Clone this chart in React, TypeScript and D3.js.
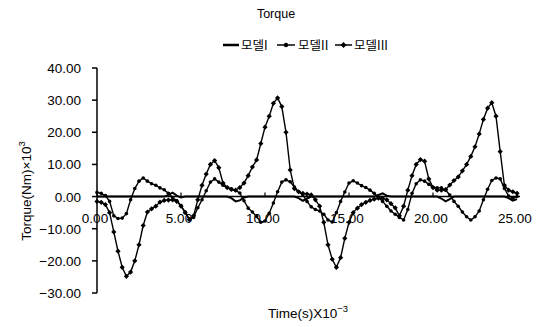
import React from "react";
import * as d3 from "d3";

const W = 549;
const H = 327;

const chartTitle = "Torque";
const seriesNames = ["모델I", "모델II", "모델III"];
const yTicks = [40, 30, 20, 10, 0, -10, -20, -30];
const xTicks = [0, 5, 10, 15, 20, 25];

// time samples (x 10^-3 s), 0.25 step
const time = d3.range(101).map((i) => i * 0.25);

const model1 = [
  0, 0, 0, 0, 0, 0, 0, 0, 0, 0, 0, 0, 0, 0, 0, 0, 0, 0.5, 1.2, 0.3,
  -0.3, 0, 0, 0, 0, 0, 0, 0, 0, 0, 0, 0, -0.5, -1.5, -1.2, -0.3, 0, 0, 0, 0,
  0, 0, 0, 0, 0, 0, 0, 0, -0.5, -1.3, -0.6, 0, 0, 0, 0, 0, 0, 0, 0, 0,
  0, 0, 0, 0, 0, 0, 0, 0.5, 1, 0.3, 0, 0, 0, 0, 0, 0, 0, 0, 0, 0,
  0, 0, -0.6, -1.5, -0.8, 0, 0, 0, 0, 0, 0, 0, 0, 0, 0, 0, 0, 0, -0.5, -1.3,
  -0.8,
];

const model2 = [
  1.3, 1, 0.3, -1.5, -6, -6.8, -6.7, -5.3, -1, 2.5, 4.8, 5.8, 4.8, 4, 3.5, 2.7, 2.1, 1, -0.3, -1.3,
  -2.8, -4.8, -7, -6.5, -3.5, -1, 1.8, 4.5, 5.5, 4.5, 3.5, 2.8, 2.4, 1.9, 1.1, -1.3, -3.6, -4.8, -6.2, -8,
  -7.6, -5.2, -2, 1.5, 4.5, 5.2, 4.6, 3, 1.5, 0.5, -1.5, -3.2, -4, -4.5, -5.5, -7.3, -7.9, -5, -1.5, 1.4,
  4.2, 4.9, 4.2, 3.4, 2.8, 2, 1, -0.2, -1.5, -3, -4.5, -5.5, -6.5, -7.3, -4, 1, 4, 5.2, 4.8, 3.8,
  2.9, 2.7, 2.7, 2, 0.5, -1.5, -3, -4.8, -6.3, -7.3, -6.3, -4.5, -1, 2.3, 5, 5.8, 5.5, 2.5, 0.2, -0.5,
  0,
];

const model3 = [
  -1.5, -1.8, -2.5, -5, -11, -17, -22, -24.8, -23.5, -20, -15, -9, -4.8, -3.8, -3, -1.7, -1.2, -1.1, -1, -1.5,
  -3, -5, -7.2, -6, -1, 3.5, 7, 10, 11.2, 9, 4.2, 2.8, 2.2, 2, 2.8, 4.2, 6.5, 9.2, 11.4, 16.5,
  21.6, 25, 29, 30.7, 28, 20, 8.3, 2.5, 1.5, 1, 0.8, 0.5, -1, -3, -8, -15, -19.5, -22, -19, -13,
  -8, -5, -3.6, -2.5, -1.8, -1.2, -0.8, -0.5, -0.5, -1, -2.2, -3.5, -6, -3, 2, 6.5, 10, 11.5, 11, 5.5,
  2.8, 2, 2, 2.2, 3.6, 5, 6.1, 8, 10, 12.5, 15.5, 19.5, 24, 27.5, 29.2, 25, 14, 3.5, 2, 1.5,
  1,
];

const FONT = "'Liberation Sans', Arial, sans-serif";
const KFONT = "'Noto Sans CJK KR', 'Liberation Sans', sans-serif";

export default function App() {
  const x = d3.scaleLinear().domain([0, 25]).range([97, 517]);
  const y = d3.scaleLinear().domain([-30, 40]).range([293, 68]);
  const line = d3
    .line<number>()
    .x((_, i) => x(time[i]))
    .y((v) => y(v));

  const diamond = (cx: number, cy: number, r: number) =>
    `M${cx},${cy - r}L${cx + r},${cy}L${cx},${cy + r}L${cx - r},${cy}Z`;

  return (
    <svg width={W} height={H} style={{ display: "block", position: "absolute", left: 0, top: 0, background: "#fff" }}>
      <rect x={0} y={0} width={W} height={H} fill="#fff" />
      <text x={276} y={18} textAnchor="middle" fontFamily={FONT} fontSize={12.5} fill="#000">
        {chartTitle}
      </text>

      {/* legend */}
      <g fontFamily={KFONT} fontSize={12.5} fill="#000">
        <line x1={223} x2={239} y1={45} y2={45} stroke="#000" strokeWidth={2.5} />
        <text x={241} y={50}>{seriesNames[0]}</text>
        <line x1={277} x2={295} y1={45} y2={45} stroke="#000" strokeWidth={1.5} />
        <circle cx={286} cy={45} r={2.2} fill="#000" />
        <text x={298} y={50}>{seriesNames[1]}</text>
        <line x1={335} x2={352} y1={45} y2={45} stroke="#000" strokeWidth={1.5} />
        <path d={diamond(343.5, 45, 3)} fill="#000" />
        <text x={354} y={50}>{seriesNames[2]}</text>
      </g>

      {/* y axis */}
      <line x1={x(0)} x2={x(0)} y1={y(40)} y2={y(-30)} stroke="#000" strokeWidth={1.5} />
      {yTicks.map((t) => (
        <g key={t}>
          <line x1={x(0) - 5} x2={x(0)} y1={y(t)} y2={y(t)} stroke="#000" strokeWidth={1.5} />
          <text x={81} y={y(t) + 5} textAnchor="end" fontFamily={FONT} fontSize={13.5} fill="#000">
            {t.toFixed(2).replace("-", "\u2212")}
          </text>
        </g>
      ))}

      {/* x axis */}
      <line x1={x(0)} x2={x(25) + 3} y1={y(0)} y2={y(0)} stroke="#000" strokeWidth={1.5} />
      {xTicks.map((t) => (
        <g key={t}>
          <line x1={x(t)} x2={x(t)} y1={y(0) - 4} y2={y(0)} stroke="#000" strokeWidth={1.2} />
          <text x={x(t) - 2} y={y(0) + 26} textAnchor="middle" fontFamily={FONT} fontSize={13.5} fill="#000">
            {t.toFixed(2)}
          </text>
        </g>
      ))}

      {/* series */}
      <path d={line(model1) || ""} fill="none" stroke="#000" strokeWidth={2} />
      <path d={line(model2) || ""} fill="none" stroke="#000" strokeWidth={1.4} />
      {model2.map((v, i) => (
        <circle key={"m2" + i} cx={x(time[i])} cy={y(v)} r={1.8} fill="#000" />
      ))}
      <path d={line(model3) || ""} fill="none" stroke="#000" strokeWidth={1.4} />
      {model3.map((v, i) => (
        <path key={"m3" + i} d={diamond(x(time[i]), y(v), 2.6)} fill="#000" />
      ))}

      {/* axis titles */}
      <text
        transform={`translate(31,${191}) rotate(-90)`}
        textAnchor="middle"
        fontFamily={FONT}
        fontSize={13.5}
        fill="#000"
      >
        Torque(Nm)×10<tspan dy={-6} fontSize={9.5}>3</tspan>
      </text>
      <text x={268} y={318} fontFamily={FONT} fontSize={13.5} fill="#000">
        Time(s)X10<tspan dy={-6} fontSize={9.5}>−3</tspan>
      </text>
    </svg>
  );
}
